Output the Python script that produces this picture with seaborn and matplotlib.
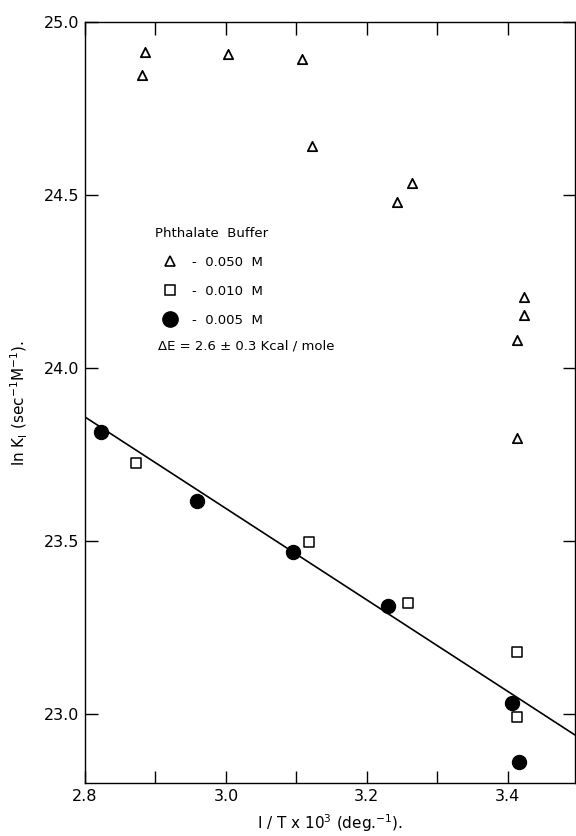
import numpy as np
import pandas as pd
import matplotlib
matplotlib.use("Agg")
import matplotlib.pyplot as plt
from matplotlib.lines import Line2D
from matplotlib.ticker import MultipleLocator
import seaborn as sns

# 0.050 M phthalate (open triangles)
tri_x = [2.885, 2.881, 3.003, 3.108, 3.122, 3.264, 3.243, 3.423, 3.423, 3.413, 3.413]
tri_y = [24.913, 24.847, 24.907, 24.893, 24.642, 24.535, 24.480, 24.205, 24.153, 24.081, 23.798]
# 0.010 M phthalate (open squares)
sq_x = [2.872, 3.118, 3.258, 3.413, 3.413]
sq_y = [23.725, 23.497, 23.320, 23.179, 22.991]
# 0.005 M phthalate (filled circles)
circ_x = [2.823, 2.959, 3.095, 3.230, 3.406, 3.416]
circ_y = [23.815, 23.616, 23.468, 23.312, 23.032, 22.861]
# fitted line
fit_x = [2.80, 3.495]
fit_y = [23.858, 22.939]

sns.set_theme(style="ticks")
plt.rcParams['font.family'] = ['DejaVu Sans']
plt.rcParams['text.color'] = 'black'
plt.rcParams['axes.labelcolor'] = 'black'

fig = plt.figure(figsize=(5.76, 8.36), dpi=100)
ax = fig.add_axes([0.1476, 0.0634, 0.8504, 0.9103])

sns.lineplot(x=fit_x, y=fit_y, ax=ax, color="black", linewidth=1.2)
sns.scatterplot(x=tri_x, y=tri_y, ax=ax, marker="^", s=45, facecolor="white",
                edgecolor="black", linewidth=1.3, zorder=3)
sns.scatterplot(x=sq_x, y=sq_y, ax=ax, marker="s", s=45, facecolor="white",
                edgecolor="black", linewidth=1.1, zorder=3)
sns.scatterplot(x=circ_x, y=circ_y, ax=ax, marker="o", s=105, color="black",
                edgecolor="black", zorder=3)

ax.set_xlim(2.8, 3.495)
ax.set_ylim(22.8, 25.0)
ax.xaxis.set_major_locator(MultipleLocator(0.2))
ax.xaxis.set_minor_locator(MultipleLocator(0.1))
ax.yaxis.set_major_locator(MultipleLocator(0.5))
ax.tick_params(which="both", direction="in", top=True, right=True,
               length=9, width=1, colors="black", labelsize=11.5, pad=4)
for s in ax.spines.values():
    s.set_linewidth(1.0)
    s.set_color("black")

ax.set_xlabel("I / T x 10$^3$ (deg.$^{-1}$).", fontsize=11, labelpad=6)
ax.set_ylabel("ln K$_\\mathrm{I}$ (sec$^{-1}$M$^{-1}$).", fontsize=11, labelpad=10)

handles = [
    Line2D([], [], marker="^", linestyle="none", markersize=7, markerfacecolor="white",
           markeredgecolor="black", markeredgewidth=1.2),
    Line2D([], [], marker="s", linestyle="none", markersize=7, markerfacecolor="white",
           markeredgecolor="black", markeredgewidth=1.1),
    Line2D([], [], marker="o", linestyle="none", markersize=11, markerfacecolor="black",
           markeredgecolor="black"),
]
labels = ["-  0.050  M", "-  0.010  M", "-  0.005  M"]
leg = ax.legend(handles, labels, title="Phthalate  Buffer", frameon=False,
                loc="upper left", bbox_to_anchor=(0.13, 0.739), fontsize=9.5,
                title_fontsize=9.5, handletextpad=0.6, labelspacing=1.2,
                borderpad=0, handlelength=2.2)
leg._legend_box.align = "left"
leg.get_title().set_color("black")
ax.text(0.148, 0.574, "ΔE = 2.6 ± 0.3 Kcal / mole", transform=ax.transAxes,
        fontsize=9.5, ha="left", va="center")

fig.savefig("out.png", dpi=100)
